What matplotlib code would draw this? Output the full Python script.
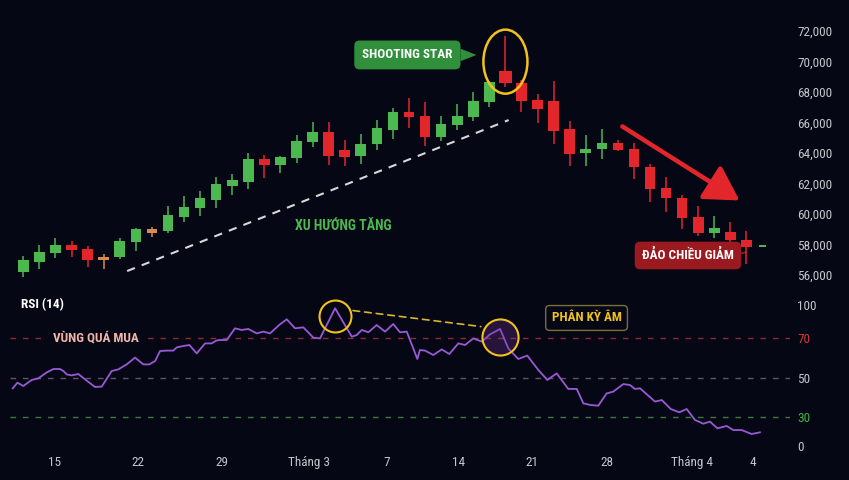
import matplotlib
matplotlib.use("Agg")
import matplotlib.pyplot as plt
import matplotlib.transforms as mtransforms
import numpy as np
from matplotlib.patches import Ellipse

# price candles (one per session)
opens = [56220, 56850, 57460, 57950, 57690, 57180, 57160, 58145, 58780, 58910,
         59820, 60370, 60920, 61840, 62120, 63590, 63210, 63690, 64700, 65360,
         64180, 63820, 64570, 65530, 66670, 66450, 65070, 65820, 66380, 67360,
         69380, 68610, 67480, 67390, 65590, 63980, 64260, 64640, 64240, 63100,
         61690, 61030, 59820, 58740, 58840, 58300, 57850]
highs = [57250, 57970, 58410, 58250, 57900, 57380, 58450, 59050, 59130, 60530,
         61180, 61510, 62450, 62620, 64020, 63870, 63800, 65160, 66010, 66010,
         64850, 65230, 66160, 66970, 67590, 67320, 66450, 67190, 67980, 68700,
         71670, 68790, 67850, 68720, 66100, 65180, 65570, 64830, 64640, 63260,
         62410, 61250, 60520, 59870, 59460, 58910, 57870]
lows = [55870, 56390, 57140, 57200, 56510, 56370, 57030, 57590, 58510, 58730,
        59500, 59890, 60410, 61250, 61640, 62340, 62670, 63360, 64370, 63230,
        63150, 63260, 64200, 64920, 65620, 64480, 64810, 65510, 66120, 67040,
        68310, 66710, 65950, 64570, 63150, 63150, 63590, 64150, 62320, 60810,
        60150, 59000, 58580, 58410, 58100, 56720, 57850]
closes = [56980, 57510, 57970, 57620, 56980, 56980, 58230, 59000, 59000, 59960,
          60440, 61030, 61950, 62210, 63590, 63210, 63760, 64770, 65380, 63800,
          63740, 64610, 65620, 66670, 66340, 65070, 65880, 66450, 67410, 68660,
          68610, 67430, 66870, 65440, 63950, 64260, 64680, 64200, 63060, 61640,
          61030, 59760, 58780, 59060, 58300, 57820, 57870]
neutral_days = [5, 8]
star_day = 30

# RSI(14): session position and value
rsi_t = [-0.66, -0.37, 0.0, 0.52, 0.93, 1.46, 1.87, 2.28, 2.49, 2.70,
         3.01, 3.42, 3.84, 4.46, 4.88, 5.50, 5.91, 6.43, 6.95, 7.47,
         7.84, 8.20, 8.51, 8.92, 9.33, 9.55, 9.96, 10.33, 10.79, 11.31,
         11.72, 12.03, 12.24, 12.66, 13.17, 13.59, 14.00, 14.52, 14.94, 15.35,
         15.97, 16.39, 16.91, 17.42, 18.05, 18.46, 19.40, 20.44, 20.75, 21.06,
         21.47, 21.99, 22.51, 23.02, 23.44, 23.86, 24.52, 24.68, 25.00, 25.51,
         26.04, 26.51, 27.07, 27.49, 28.00, 28.53, 29.04, 29.67, 30.18, 30.80,
         31.36, 32.05, 32.61, 33.19, 33.91, 34.44, 34.85, 35.26, 35.78, 36.30,
         36.71, 37.34, 37.75, 38.06, 38.38, 39.31, 39.73, 40.29, 40.82, 41.28,
         41.80, 42.31, 42.73, 43.19, 43.77, 44.18, 44.70, 45.32, 45.84]
rsi = [44.7, 47.6, 45.9, 49.0, 49.8, 52.8, 54.5, 54.5, 53.5, 51.8,
       51.3, 52.0, 49.3, 45.4, 45.6, 53.5, 54.3, 56.8, 60.2, 56.8,
       56.8, 58.5, 63.5, 63.7, 63.7, 65.3, 66.0, 66.5, 62.3, 67.3,
       67.3, 68.8, 69.0, 69.0, 78.8, 77.3, 78.2, 74.2, 75.8, 74.2,
       82.4, 87.0, 78.8, 79.7, 70.3, 69.8, 97.0, 71.2, 72.7, 77.3,
       75.2, 81.8, 75.8, 82.7, 75.2, 75.8, 59.5, 64.0, 63.7, 61.5,
       64.3, 62.0, 67.3, 66.5, 69.8, 68.2, 73.3, 78.2, 64.8, 59.5,
       61.2, 54.0, 49.0, 52.3, 44.4, 44.4, 37.0, 36.2, 35.8, 42.1,
       43.0, 46.9, 46.4, 44.4, 44.7, 37.9, 38.7, 34.1, 32.4, 34.1,
       26.9, 23.1, 25.2, 18.3, 20.7, 16.5, 16.5, 12.4, 14.1]
peak_a, peak_b = 46, 67

date_ticks = [1.93, 7.16, 12.36, 17.8, 22.61, 27.11, 31.64, 36.3, 41.59, 45.39]
date_labels = ["15", "22", "29", "Tháng 3", "7", "14", "21", "28", "Tháng 4", "4"]
price_ticks = list(range(56000, 72001, 2000))
rsi_ticks = [0, 30, 50, 70, 100]

BG = "#050814"
GREEN = "#4cb84f"
RED = "#e3262c"
ORANGE = "#d98a4c"
GREY = "#c4c6cc"
YELLOW = "#f2c21b"
plt.rcParams["font.family"] = ["Roboto Condensed", "DejaVu Sans"]

W, H = 849, 480
fig = plt.figure(figsize=(W / 100, H / 100), dpi=100, facecolor=BG)


def px_axes(x0, y0, x1, y1):
    a = fig.add_axes([x0 / W, 1 - y1 / H, (x1 - x0) / W, (y1 - y0) / H])
    a.set_facecolor("none")
    for s in a.spines.values():
        s.set_visible(False)
    return a


# ---- price panel
ax = px_axes(10, 0, 790, 290)
ax.set_xlim(-0.83, 47.71)
ax.set_ylim(55017, 74033)

o = np.array(opens)
c = np.array(closes)
idx = np.arange(len(o))
cols = [GREEN if cc >= oo else RED for oo, cc in zip(o, c)]
for k in neutral_days:
    cols[k] = ORANGE
widths = np.full(len(o), 0.66)
widths[star_day] = 0.86
widths[-1] = 0.42
body = np.maximum(np.abs(c - o), 90)
ax.vlines(idx, lows, highs, colors=cols, lw=1.1, zorder=2)
ax.bar(idx, body, bottom=np.minimum(o, c), width=widths, color=cols, zorder=3)

ax.set_xticks([])
ax.yaxis.tick_right()
ax.set_yticks(price_ticks, [f"{v:,}" for v in price_ticks])
ax.tick_params(axis="y", length=0, pad=5, labelcolor=GREY, labelsize=9.5)

# uptrend line
ax.plot([6.46, 30.2], [56260, 66160], color="#d8d8d8", lw=1.5, ls=(0, (4, 3.5)), zorder=1)
ax.text(19.9, 59210, "XU HƯỚNG TĂNG", color=GREEN, fontsize=10, fontweight="bold",
        ha="center", va="center")

# shooting star
mid = (highs[star_day] + lows[star_day]) / 2
ax.add_patch(Ellipse((star_day, mid), 2.74, (highs[star_day] - lows[star_day]) * 1.25,
                     fill=False, ec=YELLOW, lw=1.8, zorder=4))
ax.annotate("SHOOTING STAR", xy=(star_day - 1.8, 70430), xytext=(star_day - 6.1, 70430),
            color="white", fontsize=9.5, fontweight="bold", ha="center", va="center",
            bbox=dict(boxstyle="round,pad=0.6,rounding_size=0.4", fc="#2f8f3a", ec="none"),
            arrowprops=dict(arrowstyle="wedge,tail_width=0.95,shrink_factor=0.5",
                            fc="#2f8f3a", ec="none", shrinkA=0, shrinkB=0))

# downtrend arrow
ax.annotate("", xy=(44.72, 60790), xytext=(37.13, 65840),
            arrowprops=dict(arrowstyle="-|>,head_length=1.3,head_width=0.75",
                            color=RED, lw=3.2, mutation_scale=16))
ax.annotate("ĐẢO CHIỀU GIẢM", xy=(44, 58100), xytext=(41.36, 57280),
            color="white", fontsize=9.5, fontweight="bold", ha="center", va="center",
            bbox=dict(boxstyle="round,pad=0.55,rounding_size=0.4", fc="#9a1a20", ec="none"),
            arrowprops=dict(arrowstyle="-", color="#9a1a20", lw=1.2, shrinkA=0), zorder=5)
ax.annotate("", xy=(45, 57500), xytext=(43.1, 57050),
            arrowprops=dict(arrowstyle="-", color="#9a1a20", lw=1.2, shrinkA=0, shrinkB=0),
            zorder=1)

# ---- RSI panel
ax2 = px_axes(10, 305, 790, 446)
rsi_lv = [0, 30, 50, 70, 100]
rsi_px = [0, 29, 68, 108, 141]
ax2.set_yscale("function", functions=(lambda v: np.interp(v, rsi_lv, rsi_px),
                                      lambda p: np.interp(p, rsi_px, rsi_lv)))
ax2.set_xlim(-0.83, 47.71)
ax2.set_ylim(0, 100)

ax2.axhline(70, color="#8e2b31", lw=1, ls=(0, (4, 5)))
ax2.axhline(50, color="#5c5566", lw=1, ls=(0, (4, 5)))
ax2.axhline(30, color="#3c7a3e", lw=1, ls=(0, (4, 5)))
ax2.plot(rsi_t, rsi, color="#9a58d6", lw=1.3, zorder=3)

down = mtransforms.ScaledTranslation(0, -8 / 100, fig.dpi_scale_trans)
ax2.plot(rsi_t[peak_a], rsi[peak_a], "o", ms=23, mfc="none", mec=YELLOW, mew=1.5,
         transform=ax2.transData + down, clip_on=False, zorder=4)
ax2.plot(rsi_t[peak_b], rsi[peak_b], "o", ms=26, mfc=(0.45, 0.2, 0.6, 0.3), mec=YELLOW,
         mew=1.5, transform=ax2.transData + down, clip_on=False, zorder=4)
ax2.annotate("", xy=(rsi_t[peak_b], rsi[peak_b]), xytext=(rsi_t[peak_a], rsi[peak_a]),
             arrowprops=dict(arrowstyle="-", color="#d9b530", lw=1.2, ls=(0, (4, 3)),
                             shrinkA=13, shrinkB=14))

ax2.text(4.49, 70, "VÙNG QUÁ MUA", color="#f2b6a9", fontsize=9.5, fontweight="bold",
         ha="center", va="center", bbox=dict(fc=BG, ec="none", pad=6))
ax2.text(35.05, 88.2, "PHÂN KỲ ÂM", color=YELLOW, fontsize=9.5, fontweight="bold",
         ha="center", va="center",
         bbox=dict(boxstyle="round,pad=0.45,rounding_size=0.3", fc=BG, ec="#7d6e35", lw=1))
fig.text(21 / W, 1 - 305 / H, "RSI (14)", color="white", fontsize=9.5, fontweight="bold",
         ha="left", va="center")

ax2.yaxis.tick_right()
ax2.set_yticks(rsi_ticks, [str(v) for v in rsi_ticks])
ax2.tick_params(axis="y", length=0, pad=5, labelsize=9.5, labelcolor=GREY)
for lbl, v in zip(ax2.get_yticklabels(), rsi_ticks):
    if v == 70:
        lbl.set_color("#d23a3a")
    elif v == 30:
        lbl.set_color("#46b04a")
ax2.set_xticks(date_ticks, date_labels)
ax2.tick_params(axis="x", length=0, pad=7, labelsize=9.5, labelcolor=GREY)

fig.savefig("out.png", dpi=100, facecolor=BG)
